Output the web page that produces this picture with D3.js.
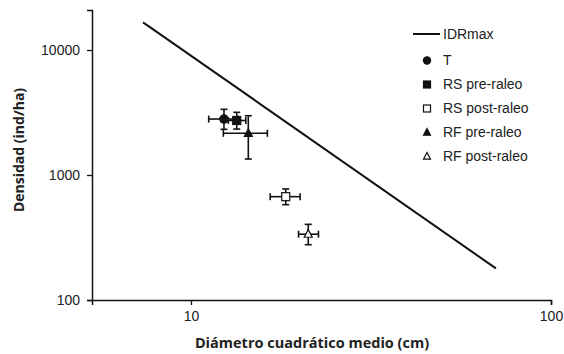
<!DOCTYPE html>
<html><head><meta charset="utf-8">
<script src="https://cdn.jsdelivr.net/npm/d3@7"></script>
<style>
body{margin:0;background:#fff;}
svg{display:block;}
</style></head>
<body>
<svg id="chart" width="564" height="354"></svg>
<script>
// ---- data ----
const seriesNames = ["T","RS pre-raleo","RS post-raleo","RF pre-raleo","RF post-raleo"];
const seriesShapes = ["circle","square","squareOpen","triangle","triangleOpen"];
const dcm      = [12.35, 13.4, 18.33, 14.43, 21.17];      // Diámetro cuadrático medio (cm)
const dcmLow   = [11.2, 12.7, 16.6, 12.3, 19.9];
const dcmHigh  = [13.5, 14.2, 20.1, 16.3, 22.6];
const dens     = [2805, 2730, 671, 2156, 336];              // Densidad (ind/ha)
const densLow  = [2320, 2330, 579, 1343, 277];
const densHigh = [3354, 3174, 773, 2981, 403];
const idrX = [7.36, 70.3];
const idrY = [16660, 179];
const xTicks = [10, 100];
const yTicks = [100, 1000, 10000];
const xDomain = [5.31, 100];
const yDomain = [100, 20900];

const svg = d3.select("#chart");
const x = d3.scaleLog().domain(xDomain).range([92, 551]);
const y = d3.scaleLog().domain(yDomain).range([300, 10]);
const ink = "#111";
const font = "'Liberation Sans', Arial, sans-serif";

// axes
const xAxis = svg.append("g").attr("transform","translate(0,300)")
  .call(d3.axisBottom(x).tickValues(xTicks).tickFormat(d3.format("d")).tickSizeOuter(0).tickSize(5).tickPadding(6));
const yAxis = svg.append("g").attr("transform","translate(92,0)")
  .call(d3.axisLeft(y).tickValues(yTicks).tickFormat(d3.format("d")).tickSizeOuter(0).tickSize(5).tickPadding(7));
[xAxis,yAxis].forEach(a=>{
  a.selectAll("path.domain").attr("stroke",ink).attr("stroke-width",1.5);
  a.selectAll(".tick line").attr("stroke",ink).attr("stroke-width",1.3);
  a.selectAll("text").attr("fill","#222").style("font-family",font).style("font-size","14px");
});

// axis titles
svg.append("text").attr("x",312).attr("y",348).attr("text-anchor","middle")
  .style("font-family","'Open Sans', sans-serif").style("font-weight","bold").style("font-size","14.5px")
  .attr("fill","#222").text("Diámetro cuadrático medio (cm)");
svg.append("text").attr("transform","translate(24,150) rotate(-90)").attr("text-anchor","middle")
  .style("font-family","'Open Sans', sans-serif").style("font-weight","bold").style("font-size","14px")
  .attr("fill","#222").text("Densidad (ind/ha)");

// IDRmax line
svg.append("path").datum(idrX.map((d,i)=>[d,idrY[i]]))
  .attr("d", d3.line().x(d=>x(d[0])).y(d=>y(d[1])))
  .attr("stroke",ink).attr("stroke-width",2).attr("fill","none");

// markers
function drawMarker(g, shape, cx, cy, s){
  if(shape==="circle") g.append("circle").attr("cx",cx).attr("cy",cy).attr("r",s*0.6).attr("fill",ink);
  else if(shape.startsWith("square")){
    const open = shape.endsWith("Open");
    g.append("rect").attr("x",cx-s/2).attr("y",cy-s/2).attr("width",s).attr("height",s)
      .attr("fill",open?"#fff":ink).attr("stroke",ink).attr("stroke-width",1.2);
  } else {
    const open = shape.endsWith("Open");
    const h = s*0.95;
    g.append("path").attr("d",`M${cx},${cy-h*0.6}L${cx+s/2},${cy+h*0.4}L${cx-s/2},${cy+h*0.4}Z`)
      .attr("fill",open?"#fff":ink).attr("stroke",ink).attr("stroke-width",1.2);
  }
}

// error bars + points
const pts = svg.append("g");
const cap = 3.5;
seriesNames.forEach((n,i)=>{
  const g = pts.append("g");
  const cx = x(dcm[i]), cy = y(dens[i]);
  const x0 = x(dcmLow[i]), x1 = x(dcmHigh[i]);
  const y0 = y(densLow[i]), y1 = y(densHigh[i]);
  const st = s=>s.attr("stroke",ink).attr("stroke-width",1.6);
  st(g.append("line").attr("x1",x0).attr("x2",x1).attr("y1",cy).attr("y2",cy));
  st(g.append("line").attr("x1",x0).attr("x2",x0).attr("y1",cy-cap).attr("y2",cy+cap));
  st(g.append("line").attr("x1",x1).attr("x2",x1).attr("y1",cy-cap).attr("y2",cy+cap));
  st(g.append("line").attr("x1",cx).attr("x2",cx).attr("y1",y0).attr("y2",y1));
  st(g.append("line").attr("x1",cx-cap).attr("x2",cx+cap).attr("y1",y0).attr("y2",y0));
  st(g.append("line").attr("x1",cx-cap).attr("x2",cx+cap).attr("y1",y1).attr("y2",y1));
  drawMarker(g, seriesShapes[i], cx, cy, 8);
});

// legend
const lg = svg.append("g");
lg.append("line").attr("x1",413).attr("x2",440).attr("y1",34).attr("y2",34).attr("stroke",ink).attr("stroke-width",2);
lg.append("text").attr("x",443).attr("y",34).attr("dy","0.35em").text("IDRmax")
  .style("font-family",font).style("font-size","14px").attr("fill","#222");
seriesNames.forEach((n,i)=>{
  const yy = 60.5 + i*24;
  drawMarker(lg, seriesShapes[i], 427, yy, 7);
  lg.append("text").attr("x",443).attr("y",yy).attr("dy","0.35em").text(n)
    .style("font-family",font).style("font-size","14px").attr("fill","#222");
});
</script>
</body></html>
